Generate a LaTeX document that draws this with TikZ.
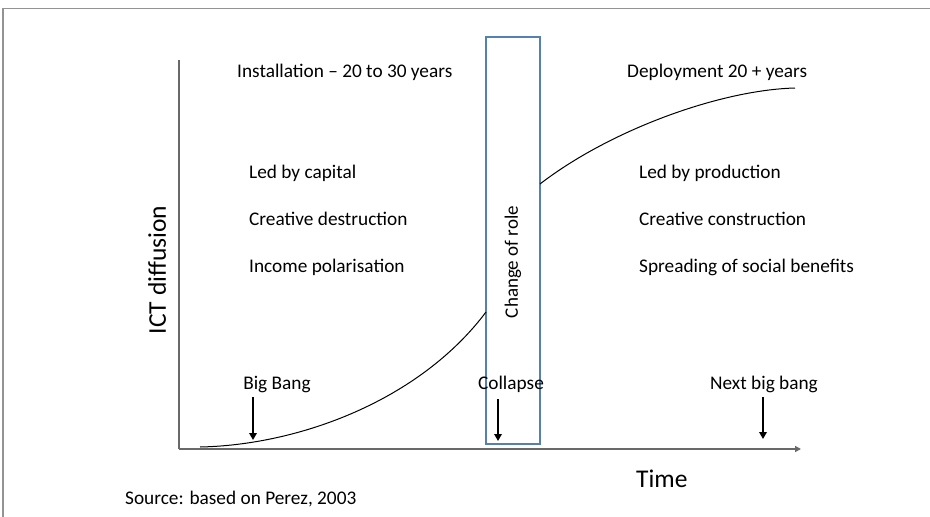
\documentclass[tikz,border=0pt]{standalone}
\usepackage{fontspec}
\setmainfont{Carlito}
\usetikzlibrary{arrows.meta}
\definecolor{boxblue}{RGB}{84,128,180}
\definecolor{axisgray}{RGB}{105,105,105}
\begin{document}
\begin{tikzpicture}[x=1pt,y=-1pt,
  lbl/.style={font=\fontsize{19.3}{23}\selectfont,inner sep=0pt,anchor=base west},
  bigl/.style={font=\fontsize{25.5}{30}\selectfont,inner sep=0pt},
  downarrow/.style={line width=2pt,-{Triangle[length=7pt,width=7.5pt]}},
  curve/.style={line width=1pt,black}]
\useasboundingbox (0,0) rectangle (930,517);
\fill[white] (0,0) rectangle (930,517);
% frame
\draw[gray!85,line width=1.4pt] (3,517) -- (3,8.5) -- (930,8.5);
% axes
\coordinate (yt) at (179,60);
\coordinate (o) at (179,449);
\coordinate (xe) at (801,449);
\draw[axisgray,line width=1.5pt] (yt) -- (o);
\draw[axisgray,line width=1.5pt,-{Triangle[length=6pt,width=6pt]}] (o) -- (xe);
% box
\node[draw=boxblue,line width=1.3pt,minimum width=54pt,minimum height=407pt,inner sep=0pt] (box) at (513,240.5) {};
\node[font=\fontsize{19}{23}\selectfont,rotate=90,inner sep=0pt] (role) at (513,262) {Change of role};
% curves
\coordinate (c0) at (200,447);
\coordinate (c1) at (486,312);
\coordinate (c2) at (540,184);
\coordinate (c3) at (795,88);
\draw[curve] (c0) .. controls (300,445) and (420,400) .. (c1);
\draw[curve] (c2) .. controls (610,130) and (720,90) .. (c3);
% texts
\node[lbl] (inst) at (237,77) {Installation – 20 to 30 years};
\node[lbl] (depl) at (627,77) {Deployment 20 + years};
\node[lbl] (l1) at (249,178) {Led by capital};
\node[lbl] (l2) at (249,225) {Creative destruction};
\node[lbl] (l3) at (249,272) {Income polarisation};
\node[lbl] (r1) at (639,178) {Led by production};
\node[lbl] (r2) at (639,225) {Creative construction};
\node[lbl] (r3) at (639,272) {Spreading of social benefits};
\node[lbl,anchor=base] (bb) at (277,389) {Big Bang};
\node[lbl,anchor=base] (col) at (511,389) {Collapse};
\node[lbl,anchor=base] (nbb) at (764,389) {Next big bang};
\node[bigl,anchor=base west] (time) at (636,487) {Time};
\node[lbl] (src) at (125,504) {Source: based on Perez, 2003};
\node[bigl,rotate=90] (ict) at (157,270) {ICT diffusion};
% arrows
\coordinate (a1s) at (253,397); \coordinate (a1e) at (253,440);
\coordinate (a2s) at (498,399); \coordinate (a2e) at (498,441);
\coordinate (a3s) at (763,397); \coordinate (a3e) at (763,439);
\draw[downarrow] (a1s) -- (a1e);
\draw[downarrow] (a2s) -- (a2e);
\draw[downarrow] (a3s) -- (a3e);
\end{tikzpicture}
\end{document}
